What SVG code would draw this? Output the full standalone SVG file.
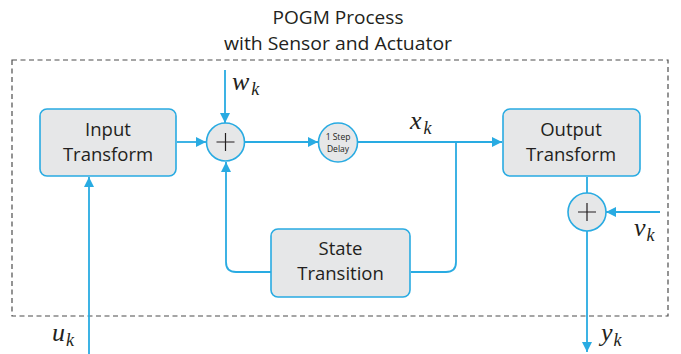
<svg xmlns="http://www.w3.org/2000/svg" width="681" height="354" viewBox="0 0 681 354">
<defs>
<style>
.box{fill:#e6e7e8;stroke:#29abe2;stroke-width:1.6}
.ln{fill:none;stroke:#29abe2;stroke-width:1.8}
.t{font-family:"Open Sans","Liberation Sans",sans-serif;font-size:18.5px;fill:#231f20;text-anchor:middle}
.h{font-family:"Open Sans","Liberation Sans",sans-serif;font-size:18.5px;fill:#231f20;text-anchor:middle}
.s{font-family:"Open Sans","Liberation Sans",sans-serif;font-size:8.5px;fill:#231f20;text-anchor:middle}
.m{font-family:"Liberation Serif",serif;font-style:italic;font-size:26px;fill:#231f20}
.sub{font-size:18px}
.plus{stroke:#231f20;stroke-width:1.2}
</style>
<marker id="ah" viewBox="0 0 10 10" refX="10" refY="5" markerWidth="10" markerHeight="10" markerUnits="userSpaceOnUse" orient="auto">
<path d="M0,0 L10,5 L0,10 z" fill="#29abe2"/>
</marker>
</defs>
<rect width="681" height="354" fill="#ffffff"/>
<g id="title">
<text class="h" x="338" y="24" textLength="131" lengthAdjust="spacingAndGlyphs">POGM Process</text>
<text class="h" x="338" y="50" textLength="228" lengthAdjust="spacingAndGlyphs">with Sensor and Actuator</text>
</g>
<g id="boundary">
<rect x="12" y="60" width="656" height="256" fill="none" stroke="#4d4d4d" stroke-width="1.2" stroke-dasharray="5,3.5"/>
</g>
<g id="connectors">
<path class="ln" d="M89,354 V177" marker-end="url(#ah)"/>
<path class="ln" d="M177,142 H206" marker-end="url(#ah)"/>
<path class="ln" d="M225,70 V123" marker-end="url(#ah)"/>
<path class="ln" d="M244,142 H318" marker-end="url(#ah)"/>
<path class="ln" d="M357.5,142 H502" marker-end="url(#ah)"/>
<path class="ln" d="M456,142 V262 Q456,272 446,272 H411"/>
<path class="ln" d="M271,272 H236 Q226,272 226,262 V162" marker-end="url(#ah)"/>
<path class="ln" d="M587,177 V193"/>
<path class="ln" d="M660,212 H606" marker-end="url(#ah)"/>
<path class="ln" d="M587,231 V352" marker-end="url(#ah)"/>
</g>
<g id="input-transform">
<rect class="box" x="40" y="109" width="136" height="67" rx="7"/>
<text class="t" x="108" y="136">Input</text>
<text class="t" x="108" y="161">Transform</text>
</g>
<g id="sum1">
<circle class="box" cx="225.5" cy="142" r="19"/>
<path class="plus" d="M216.5,142 H234.5 M225.5,133 V151"/>
</g>
<g id="delay">
<circle class="box" cx="338" cy="142.5" r="19.5"/>
<text class="s" x="338" y="140">1 Step</text>
<text class="s" x="338" y="151.5">Delay</text>
</g>
<g id="output-transform">
<rect class="box" x="503" y="109" width="137" height="67" rx="7"/>
<text class="t" x="571" y="136">Output</text>
<text class="t" x="571" y="161">Transform</text>
</g>
<g id="sum2">
<circle class="box" cx="587" cy="212" r="19"/>
<path class="plus" d="M578,212 H596 M587,203 V221"/>
</g>
<g id="state-transition">
<rect class="box" x="271" y="229" width="139" height="68" rx="7"/>
<text class="t" x="340.5" y="255">State</text>
<text class="t" x="340.5" y="280">Transition</text>
</g>
<g id="labels">
<text class="m" x="232" y="90">w<tspan class="sub" dx="2" dy="5">k</tspan></text>
<text class="m" x="410" y="129">x<tspan class="sub" dx="2" dy="5">k</tspan></text>
<text class="m" x="634" y="236">v<tspan class="sub" dx="1" dy="5">k</tspan></text>
<text class="m" x="52" y="341">u<tspan class="sub" dx="1" dy="5">k</tspan></text>
<text class="m" x="601" y="341">y<tspan class="sub" dx="1" dy="5">k</tspan></text>
</g>
</svg>
